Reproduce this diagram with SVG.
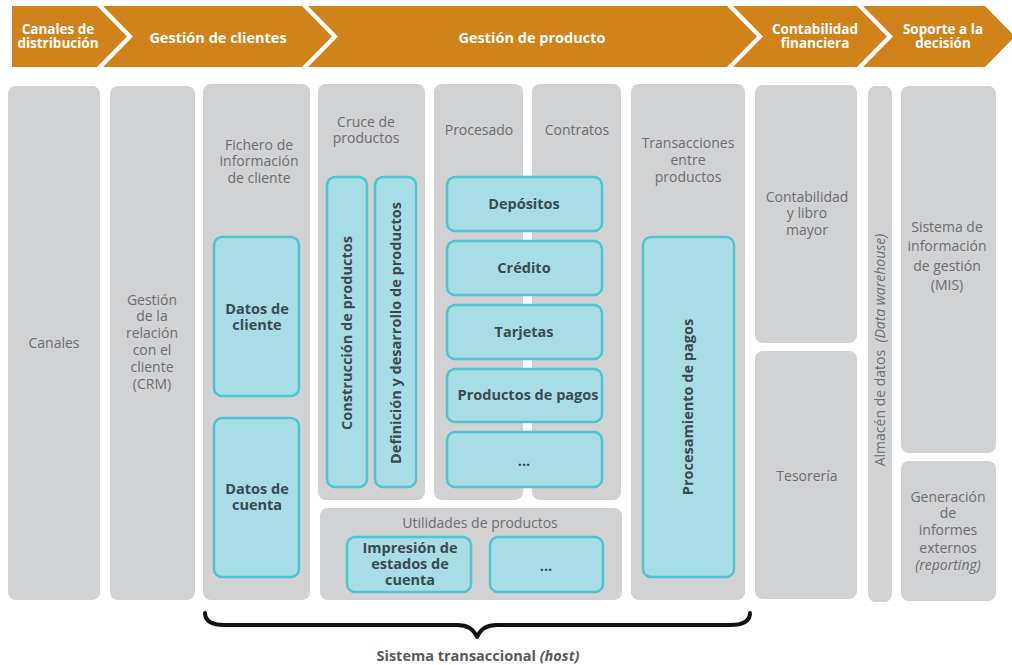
<svg xmlns="http://www.w3.org/2000/svg" width="1012" height="665" viewBox="0 0 1012 665">
<style>
.hdr{fill:#d0831b}
.ht{font-family:"Open Sans","Liberation Sans",sans-serif;font-weight:bold;fill:#ffffff;text-anchor:middle}
.col{fill:#d1d2d4}
.box{fill:#a8dde5;stroke:#4ec3d1;stroke-width:2.5}
.lt{font-family:"Open Sans","Liberation Sans",sans-serif;font-size:14px;fill:#6d6e71;text-anchor:middle}
.bt{font-family:"Open Sans","Liberation Sans",sans-serif;font-size:14.5px;font-weight:bold;fill:#3b4a51;text-anchor:middle}
.it{font-style:italic}
</style>
<rect width="1012" height="665" fill="#ffffff"/>
<g id="header">
  <g id="h-canales"><polygon class="hdr" points="12,6 97,6 127,36.5 97,67 12,67"/>
    <text class="ht" font-size="13.5"><tspan x="58" y="34">Canales de</tspan><tspan x="58" y="48">distribución</tspan></text></g>
  <g id="h-clientes"><polygon class="hdr" points="103,6 302,6 332,36.5 302,67 103,67 133,36.5"/>
    <text class="ht" font-size="14.5" x="218" y="43">Gestión de clientes</text></g>
  <g id="h-producto"><polygon class="hdr" points="308,6 727,6 757,36.5 727,67 308,67 338,36.5"/>
    <text class="ht" font-size="14.5" x="532" y="43">Gestión de producto</text></g>
  <g id="h-contab"><polygon class="hdr" points="733,6 857,6 887,36.5 857,67 733,67 763,36.5"/>
    <text class="ht" font-size="13.5"><tspan x="815" y="34">Contabilidad</tspan><tspan x="815" y="48">financiera</tspan></text></g>
  <g id="h-soporte"><polygon class="hdr" points="863,6 985,6 1015,36.5 985,67 863,67 893,36.5"/>
    <text class="ht" font-size="13.5"><tspan x="943" y="34">Soporte a la</tspan><tspan x="943" y="48">decisión</tspan></text></g>
</g>
<g id="columns">
  <g id="canales"><rect class="col" x="8" y="86" width="92" height="514" rx="8"/>
    <text class="lt" x="54" y="348">Canales</text></g>
  <g id="crm"><rect class="col" x="110" y="86" width="85" height="514" rx="8"/>
    <text class="lt" x="152" y="305">Gestión</text><text class="lt" x="152" y="321">de la</text><text class="lt" x="152" y="338">relación</text><text class="lt" x="152" y="355">con el</text><text class="lt" x="152" y="372">cliente</text><text class="lt" x="152" y="389">(CRM)</text></g>
  <g id="fichero"><rect class="col" x="203" y="84" width="107" height="516" rx="8"/>
    <text class="lt" x="259" y="150">Fichero de</text><text class="lt" x="259" y="166">información</text><text class="lt" x="259" y="183">de cliente</text></g>
  <g id="cruce"><rect class="col" x="318" y="84" width="107" height="416" rx="8"/>
    <text class="lt" x="366" y="127">Cruce de</text><text class="lt" x="366" y="143">productos</text></g>
  <g id="procesado"><rect class="col" x="434" y="84" width="89" height="416" rx="8"/>
    <text class="lt" x="479" y="135">Procesado</text></g>
  <g id="contratos"><rect class="col" x="532" y="84" width="89" height="416" rx="8"/>
    <text class="lt" x="577" y="135">Contratos</text></g>
  <g id="utilidades"><rect class="col" x="320" y="508" width="302" height="92" rx="8"/>
    <text class="lt" x="480" y="528">Utilidades de productos</text></g>
  <g id="transacciones"><rect class="col" x="631" y="84" width="114" height="516" rx="8"/>
    <text class="lt" x="688" y="148">Transacciones</text><text class="lt" x="688" y="165">entre</text><text class="lt" x="688" y="182">productos</text></g>
  <g id="contabilidad"><rect class="col" x="755" y="85" width="102" height="258" rx="8"/>
    <text class="lt" x="807" y="202">Contabilidad</text><text class="lt" x="807" y="218">y libro</text><text class="lt" x="807" y="235">mayor</text></g>
  <g id="tesoreria"><rect class="col" x="755" y="351" width="102" height="248" rx="8"/>
    <text class="lt" x="807" y="481">Tesorería</text></g>
  <g id="almacen"><rect class="col" x="868" y="86" width="24" height="516" rx="8"/>
    <text class="lt" transform="translate(885,350) rotate(-90)" x="0" y="0" xml:space="preserve">Almacén de datos  <tspan class="it">(Data warehouse)</tspan></text></g>
  <g id="mis"><rect class="col" x="901" y="86" width="95" height="367" rx="8"/>
    <text class="lt" x="947" y="232">Sistema de</text><text class="lt" x="947" y="251">información</text><text class="lt" x="947" y="271">de gestión</text><text class="lt" x="947" y="290">(MIS)</text></g>
  <g id="reporting"><rect class="col" x="901" y="461" width="95" height="140" rx="8"/>
    <text class="lt" x="948" y="502">Generación</text><text class="lt" x="948" y="518">de</text><text class="lt" x="948" y="535">informes</text><text class="lt" x="948" y="553">externos</text><text class="lt it" x="948" y="570">(reporting)</text></g>
</g>
<g id="boxes">
  <g id="datos-cliente"><rect class="box" x="214" y="237" width="85" height="159" rx="8"/>
    <text class="bt" x="257" y="314">Datos de</text><text class="bt" x="257" y="330">cliente</text></g>
  <g id="datos-cuenta"><rect class="box" x="214" y="418" width="85" height="159" rx="8"/>
    <text class="bt" x="257" y="494">Datos de</text><text class="bt" x="257" y="510">cuenta</text></g>
  <g id="construccion"><rect class="box" x="327" y="177" width="40" height="310" rx="8"/>
    <text class="bt" transform="translate(352,333) rotate(-90)">Construcción de productos</text></g>
  <g id="definicion"><rect class="box" x="375" y="177" width="41" height="310" rx="8"/>
    <text class="bt" transform="translate(401,333) rotate(-90)">Definición y desarrollo de productos</text></g>
  <g id="depositos"><rect class="box" x="447" y="177" width="155" height="54" rx="8"/>
    <text class="bt" x="524" y="209">Depósitos</text></g>
  <g id="credito"><rect class="box" x="447" y="241" width="155" height="54" rx="8"/>
    <text class="bt" x="524" y="273">Crédito</text></g>
  <g id="tarjetas"><rect class="box" x="447" y="305" width="155" height="54" rx="8"/>
    <text class="bt" x="524" y="337">Tarjetas</text></g>
  <g id="productos-pagos"><rect class="box" x="447" y="369" width="155" height="53" rx="8"/>
    <text class="bt" x="528" y="400">Productos de pagos</text></g>
  <g id="otros-productos"><rect class="box" x="447" y="432" width="155" height="55" rx="8"/>
    <text class="bt" x="524" y="466">...</text></g>
  <g id="impresion"><rect class="box" x="347" y="537" width="124" height="55" rx="8"/>
    <text class="bt" x="410" y="553">Impresión de</text><text class="bt" x="410" y="569">estados de</text><text class="bt" x="410" y="585">cuenta</text></g>
  <g id="otras-utilidades"><rect class="box" x="490" y="537" width="113" height="55" rx="8"/>
    <text class="bt" x="546" y="571">...</text></g>
  <g id="procesamiento"><rect class="box" x="643" y="237" width="91" height="340" rx="8"/>
    <text class="bt" transform="translate(693,407) rotate(-90)">Procesamiento de pagos</text></g>
</g>
<g id="connectors">
  <path d="M205,613 Q205,625 225,625 L457,625 Q472,625 477,637 Q482,625 497,625 L730,625 Q750,625 750,613" fill="none" stroke="#111111" stroke-width="4" stroke-linecap="round" stroke-linejoin="round"/>
</g>
<g id="footer">
  <text class="bt" x="478" y="661" style="fill:#58595b">Sistema transaccional <tspan class="it">(host)</tspan></text>
</g>
</svg>
